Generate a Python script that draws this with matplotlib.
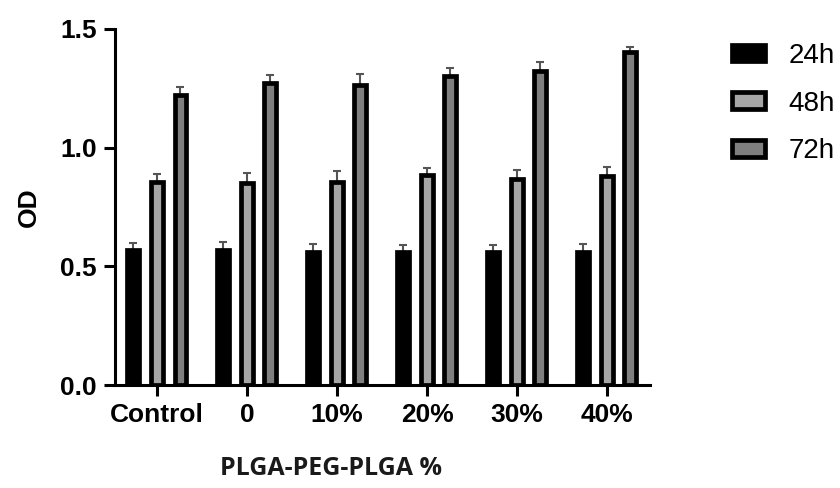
import numpy as np
import matplotlib.pyplot as plt

# OD readings per group and time point
groups = ["Control", "0", "10%", "20%", "30%", "40%"]
times = ["24h", "48h", "72h"]
od_24h = [0.57, 0.57, 0.56, 0.56, 0.56, 0.56]
od_48h = [0.855, 0.85, 0.855, 0.885, 0.87, 0.88]
od_72h = [1.22, 1.272, 1.264, 1.302, 1.323, 1.403]
err_24h = [0.028, 0.032, 0.035, 0.032, 0.028, 0.036]
err_48h = [0.036, 0.045, 0.045, 0.03, 0.034, 0.038]
err_72h = [0.036, 0.034, 0.045, 0.034, 0.038, 0.022]

plt.rcParams['font.family'] = ['Liberation Sans', 'DejaVu Sans']

fig = plt.figure(figsize=(8.4, 4.88), dpi=100)
ax = fig.add_axes([0.137, 0.211, 0.637, 0.7296])

x = np.arange(len(groups))
width = 0.133
offsets = [-0.27, 0.0, 0.26]
fills = ["#000000", "#a6a6a6", "#7f7f7f"]
values = [od_24h, od_48h, od_72h]
errors = [err_24h, err_48h, err_72h]

handles = []
for off, col, vals, errs, lab in zip(offsets, fills, values, errors, times):
    b = ax.bar(x + off, vals, width, color=col, edgecolor="black",
               linewidth=3.4, label=lab, zorder=2)
    handles.append(b)
    ax.errorbar(x + off, vals, yerr=[np.zeros(len(vals)), errs], fmt="none",
                ecolor="#555555", elinewidth=1.5, capsize=3, capthick=1.5,
                zorder=1)

ax.set_xlim(-0.467, 5.48)
ax.set_ylim(0, 1.5)
ax.set_yticks([0.0, 0.5, 1.0, 1.5])
ax.set_yticklabels(["0.0", "0.5", "1.0", "1.5"])
ax.set_xticks(x)
ax.set_xticklabels(groups)

for s in ["top", "right"]:
    ax.spines[s].set_visible(False)
for s in ["left", "bottom"]:
    ax.spines[s].set_linewidth(2.2)

ax.tick_params(axis="both", width=2.2, length=8, labelsize=19, pad=5)
for t in ax.get_xticklabels() + ax.get_yticklabels():
    t.set_fontweight("bold")

ax.set_ylabel("OD", fontsize=19, fontweight="bold", labelpad=14)
ax.set_xlabel("PLGA-PEG-PLGA %", fontsize=18, fontweight="bold",
              family=["Open Sans", "DejaVu Sans"], color="#1a1a1a")
ax.xaxis.set_label_coords((331 - 115) / (650 - 115), -0.2)

fig.legend(handles=handles, labels=times, loc="upper left",
           bbox_to_anchor=(0.871, 0.912), frameon=False, fontsize=20,
           borderpad=0, borderaxespad=0,
           handlelength=1.19, handleheight=0.54, handletextpad=0.85,
           labelspacing=0.78)

fig.savefig("out.png", dpi=100)
